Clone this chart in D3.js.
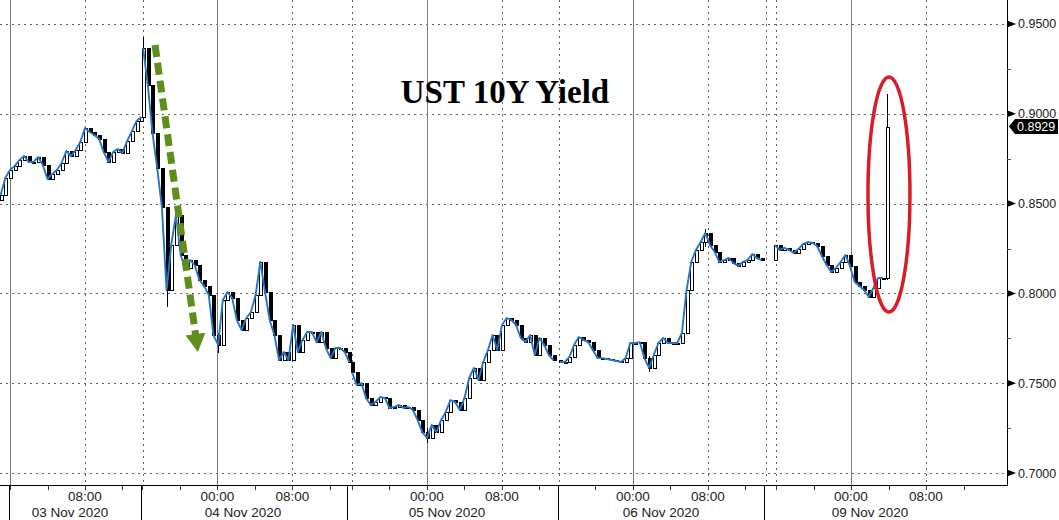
<!DOCTYPE html>
<html><head><meta charset="utf-8">
<script src="https://cdn.jsdelivr.net/npm/d3@7"></script>
<style>html,body{margin:0;padding:0;background:#fff;} svg{display:block;}</style>
</head><body>
<svg id="chart" width="1059" height="520"></svg>
<script>
// ---------- DATA ----------
// Time axis is Bloomberg's compressed session time, in hours from 03 Nov 00:00.
const stepHours = 0.5;
const sessionStarts = [-1.0, 14.2, 36.48, 58.67, 81.6];
const sessionOpens  = [0.8520, 0.8982, 0.7618, 0.7629, 0.8186];
const session1 = [0.8548,0.8643,0.8687,0.8709,0.8743,0.8765,0.8732,0.8732,0.8759,0.8715,0.8637,0.8665,0.8687,0.8726,0.8793,0.8765,0.8798,0.8843,0.8921,0.8899,0.8882,0.8860,0.8787,0.8732,0.8787,0.8804,0.8782,0.8849,0.8904,0.8960,0.8982];
const session2 = [0.9366,0.9160,0.8893,0.8698,0.8481,0.8019,0.8269,0.8437,0.8214,0.8141,0.8186,0.8158,0.8075,0.8041,0.7991,0.7768,0.7713,0.7963,0.8008,0.7974,0.7852,0.7796,0.7863,0.7896,0.7991,0.8175,0.8008,0.7852,0.7768,0.7629,0.7674,0.7629,0.7824,0.7674,0.7741,0.7785,0.7785,0.7729,0.7785,0.7696,0.7640,0.7696,0.7696,0.7674,0.7618];
const session3 = [0.7562,0.7490,0.7501,0.7418,0.7379,0.7395,0.7423,0.7418,0.7362,0.7368,0.7379,0.7362,0.7368,0.7351,0.7295,0.7228,0.7195,0.7267,0.7228,0.7295,0.7340,0.7406,0.7395,0.7351,0.7418,0.7529,0.7585,0.7518,0.7618,0.7685,0.7768,0.7685,0.7824,0.7863,0.7852,0.7824,0.7752,0.7729,0.7768,0.7657,0.7752,0.7713,0.7657,0.7629];
const session4 = [0.7618,0.7618,0.7646,0.7713,0.7757,0.7741,0.7729,0.7685,0.7640,0.7640,0.7635,0.7629,0.7624,0.7618,0.7640,0.7724,0.7724,0.7729,0.7640,0.7585,0.7657,0.7724,0.7752,0.7724,0.7724,0.7724,0.7780,0.8019,0.8175,0.8242,0.8286,0.8336,0.8269,0.8231,0.8175,0.8186,0.8197,0.8169,0.8153,0.8175,0.8186,0.8219,0.8197,0.8186];
const session5 = [0.8269,0.8242,0.8253,0.8242,0.8225,0.8247,0.8275,0.8286,0.8281,0.8264,0.8208,0.8158,0.8119,0.8141,0.8175,0.8214,0.8153,0.8063,0.8041,0.8019,0.7980,0.8030,0.8086,0.8086];
const lastBar = {open: 0.8086, high: 0.9110, low: 0.8075, close: 0.8929};
// notable wicks: [session, bar, high, low]
const wicks = [[1,0,0.9428,0.9300],[1,5,0.8040,0.7924],[1,16,0.7780,0.7668],[2,16,0.7250,0.7167],[3,19,0.7650,0.7562],[3,31,0.8360,0.8260]];

const yTicks = [0.70, 0.75, 0.80, 0.85, 0.90, 0.95];
const yMinorTicks = [0.725, 0.775, 0.825, 0.875, 0.925];
const dayMidnights = [0, 22.13, 44.48, 66.45, 89.71];
const sessionBreaks = [14.19, 36.48, 58.56, 80.64, 81.71];
const dayBoxEdges = [-0.11, 13.97, 35.95, 58.45, 80.43];
const timeLabelHours = [8, 22.13, 30.13, 44.48, 52.48, 66.45, 74.45, 89.71, 97.71];
const timeLabels = ["08:00","00:00","08:00","00:00","08:00","00:00","08:00","00:00","08:00"];
const eightHours = [8, 30.13, 52.48, 74.45, 97.71];
const minorTickOffsets = [-8, -4, 0, 4, 8, 12];
const dayLabels = ["03 Nov 2020","04 Nov 2020","05 Nov 2020","06 Nov 2020","09 Nov 2020"];
const dayLabelHours = [6.4, 24.85, 46.61, 69.44, 91.73];
const title = "UST 10Y Yield";

// ---------- LAYOUT ----------
const W = 1059, H = 520, plotR = 1007, plotB = 485;
const svg = d3.select("#chart");
const x = d3.scaleLinear().domain([-1.067, 106.35]).range([0, plotR]);
const y = d3.scaleLinear().domain([0.69333, 0.96336]).range([plotB, 0]);
const px = v => Math.round(x(v)) + 0.5;
const py = v => Math.round(y(v)) + 0.5;

svg.append("rect").attr("width", W).attr("height", H).attr("fill", "#fff");

// grid
const grid = svg.append("g").attr("shape-rendering", "crispEdges");
grid.selectAll(".hg").data(yTicks).join("line")
  .attr("x1", 0).attr("x2", plotR).attr("y1", d => py(d)).attr("y2", d => py(d))
  .attr("stroke", "#666").attr("stroke-dasharray", "2,4");
grid.selectAll(".vs").data(dayMidnights).join("line")
  .attr("x1", d => px(d)).attr("x2", d => px(d)).attr("y1", 0).attr("y2", plotB)
  .attr("stroke", "#7a7a7a");
grid.selectAll(".vd").data(eightHours.concat(sessionBreaks)).join("line")
  .attr("x1", d => px(d)).attr("x2", d => px(d)).attr("y1", 0).attr("y2", plotB)
  .attr("stroke", "#666").attr("stroke-dasharray", "2,4");

// build bars
const sessions = [session1, session2, session3, session4, session5];
const bars = [];
const lines = [];
sessions.forEach((closes, s) => {
  const pts = [];
  closes.forEach((c, i) => {
    const o = i === 0 ? sessionOpens[s] : closes[i - 1];
    const t = sessionStarts[s] + i * stepHours;
    let hi = Math.max(o, c), lo = Math.min(o, c);
    const w = wicks.find(k => k[0] === s && k[1] === i);
    if (w) { hi = Math.max(hi, w[2]); lo = Math.min(lo, w[3]); }
    bars.push({t, o, c, hi, lo});
    pts.push({t, c});
  });
  lines.push(pts);
});
bars.push({t: sessionStarts[4] + session5.length * stepHours, o: lastBar.open, c: lastBar.close, hi: lastBar.high, lo: lastBar.low});

// candles
const cg = svg.append("g").attr("shape-rendering", "crispEdges");
cg.selectAll(".wick").data(bars).join("line")
  .attr("x1", d => Math.round(x(d.t)) + 0.5).attr("x2", d => Math.round(x(d.t)) + 0.5)
  .attr("y1", d => y(d.hi)).attr("y2", d => y(d.lo))
  .attr("stroke", "#000");
cg.selectAll(".body").data(bars).join("rect")
  .attr("x", d => Math.round(x(d.t)) - 1 + 0.5)
  .attr("width", 3)
  .attr("y", d => Math.round(y(Math.max(d.o, d.c))) + 0.5)
  .attr("height", d => Math.max(1, Math.round(y(Math.min(d.o, d.c)) - y(Math.max(d.o, d.c)))))
  .attr("fill", d => d.c >= d.o ? "#fff" : "#000")
  .attr("stroke", "#000").attr("stroke-width", 1);

// blue close line
const lineGen = d3.line().x(d => x(d.t)).y(d => y(d.c));
svg.append("g").selectAll("path").data(lines).join("path")
  .attr("d", lineGen).attr("fill", "none")
  .attr("stroke", "#2676c8").attr("stroke-width", 1.9).attr("stroke-linejoin", "round");

// axes
const ax = svg.append("g").attr("shape-rendering", "crispEdges");
ax.append("line").attr("x1", plotR + 0.5).attr("x2", plotR + 0.5).attr("y1", 0).attr("y2", plotB)
  .attr("stroke", "#000");
ax.append("line").attr("x1", 0).attr("x2", plotR + 1).attr("y1", plotB + 0.5).attr("y2", plotB + 0.5)
  .attr("stroke", "#000");
ax.selectAll(".ym").data(yMinorTicks).join("line")
  .attr("x1", plotR).attr("x2", plotR + 4).attr("y1", d => py(d)).attr("y2", d => py(d))
  .attr("stroke", "#555");
svg.selectAll(".tri").data(yTicks).join("path")
  .attr("d", d => `M${plotR},${y(d) - 3.5}L${plotR + 9},${y(d)}L${plotR},${y(d) + 3.5}Z`)
  .attr("fill", "#000");
svg.selectAll(".yl").data(yTicks).join("text")
  .attr("x", plotR + 11).attr("y", d => y(d) + 4.5)
  .attr("font-family", "Liberation Sans, Arial, sans-serif").attr("font-size", 12.5)
  .attr("fill", "#222").text(d => d.toFixed(4));

// minor x ticks
const xMinor = [];
dayMidnights.forEach(m => minorTickOffsets.forEach(o => { const h = m + o; if (x(h) >= 0 && x(h) <= plotR) xMinor.push(h); }));
ax.selectAll(".xm").data(xMinor).join("line")
  .attr("x1", d => px(d)).attr("x2", d => px(d)).attr("y1", plotB).attr("y2", plotB + 5)
  .attr("stroke", "#333");
ax.selectAll(".db").data(dayBoxEdges).join("line")
  .attr("x1", d => px(d)).attr("x2", d => px(d)).attr("y1", plotB).attr("y2", H)
  .attr("stroke", "#000");
svg.selectAll(".tl").data(timeLabelHours).join("text")
  .attr("x", d => x(d)).attr("y", 501).attr("text-anchor", "middle")
  .attr("font-family", "Liberation Sans, Arial, sans-serif").attr("font-size", 13.5)
  .attr("fill", "#222").text((d, i) => timeLabels[i]);
svg.selectAll(".dl").data(dayLabelHours).join("text")
  .attr("x", d => x(d)).attr("y", 517).attr("text-anchor", "middle")
  .attr("font-family", "Liberation Sans, Arial, sans-serif").attr("font-size", 13.5)
  .attr("fill", "#222").text((d, i) => dayLabels[i]);

// current price box
const yc = y(lastBar.close);
svg.append("path")
  .attr("d", `M${plotR + 2},${yc}L${plotR + 8},${yc - 7.5}L${W - 1},${yc - 7.5}L${W - 1},${yc + 7.5}L${plotR + 8},${yc + 7.5}Z`)
  .attr("fill", "#000");
svg.append("text").attr("x", plotR + 10).attr("y", yc + 4.5)
  .attr("font-family", "Liberation Sans, Arial, sans-serif").attr("font-size", 12.5)
  .attr("fill", "#fff").text(lastBar.close.toFixed(4));

// title
svg.append("text").attr("x", 505).attr("y", 103).attr("text-anchor", "middle")
  .attr("font-family", "Liberation Serif, Times New Roman, serif").attr("font-weight", "bold")
  .attr("font-size", 33).attr("fill", "#000").text(title);

// annotations (data coordinates)
const arrowStart = {t: 15.47, v: 0.9383}, arrowTip = {t: 20.05, v: 0.7674};
const ax0 = x(arrowStart.t), ay0 = y(arrowStart.v), ax1 = x(arrowTip.t), ay1 = y(arrowTip.v);
const len = Math.hypot(ax1 - ax0, ay1 - ay0), ux = (ax1 - ax0) / len, uy = (ay1 - ay0) / len;
const headL = 18, headW = 10;
const bx = ax1 - ux * headL, by = ay1 - uy * headL;
const defs = svg.append("defs");
defs.append("filter").attr("id", "soft").append("feGaussianBlur").attr("stdDeviation", 0.7);
const ann = svg.append("g").attr("filter", "url(#soft)");
ann.append("line").attr("x1", ax0).attr("y1", ay0).attr("x2", bx + ux * 2).attr("y2", by + uy * 2)
  .attr("stroke", "#5e8e1c").attr("stroke-width", 7).attr("stroke-dasharray", "12,6");
ann.append("path")
  .attr("d", `M${ax1},${ay1}L${bx - uy * headW},${by + ux * headW}L${bx + uy * headW},${by - ux * headW}Z`)
  .attr("fill", "#5e8e1c");
const ell = {t: 93.76, v: 0.8551, t0: 91.52, t1: 96.0, vTop: 0.9205, vBot: 0.7896};
ann.append("ellipse")
  .attr("cx", x(ell.t)).attr("cy", y(ell.v))
  .attr("rx", (x(ell.t1) - x(ell.t0)) / 2).attr("ry", (y(ell.vBot) - y(ell.vTop)) / 2)
  .attr("fill", "none").attr("stroke", "#d91f2b").attr("stroke-width", 3.5);
</script>
</body></html>
